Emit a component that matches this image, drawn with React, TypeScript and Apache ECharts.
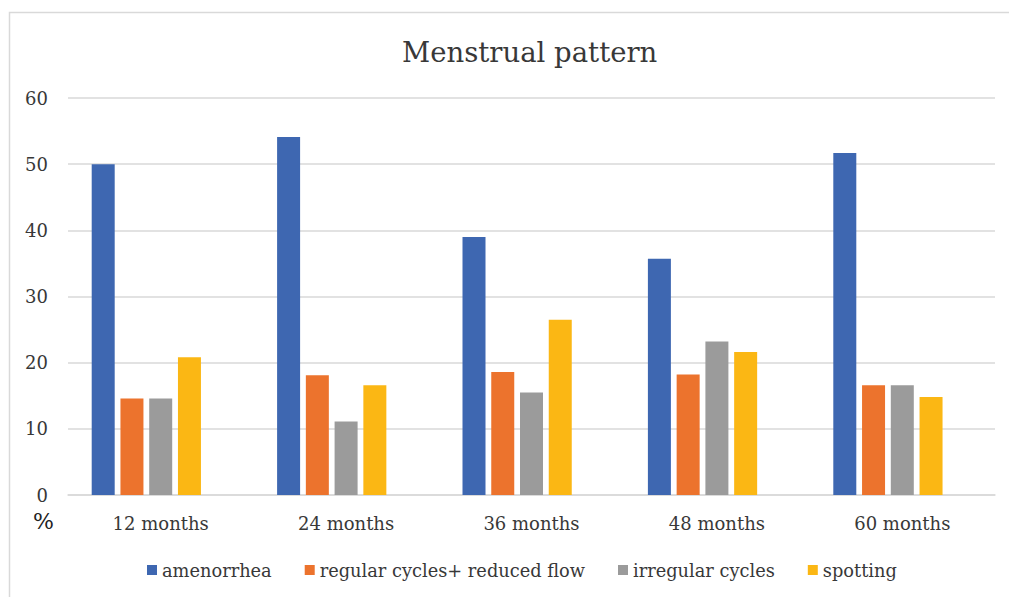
import React, { useEffect, useRef } from "react";
import * as echarts from "echarts";

const categories = ["12 months", "24 months", "36 months", "48 months", "60 months"];
const amenorrhea = [50, 54.1, 39, 35.7, 51.7];
const regularReduced = [14.6, 18.1, 18.6, 18.2, 16.6];
const irregular = [14.6, 11.1, 15.5, 23.2, 16.6];
const spotting = [20.8, 16.6, 26.5, 21.6, 14.8];
const seriesNames = ["amenorrhea", "regular cycles+ reduced flow", "irregular cycles", "spotting"];
const colors = ["#3E67B1", "#EC732D", "#9B9B9B", "#FBB714"];

const FONT = "DejaVu Serif";
const TEXT = "#383838";

export default function App() {
  const ref = useRef<HTMLDivElement>(null);
  useEffect(() => {
    if (!ref.current) return;
    const chart = echarts.init(ref.current, undefined, { renderer: "svg" });
    const values = [amenorrhea, regularReduced, irregular, spotting];
    const series: any[] = values.map((d, i) => ({
      name: seriesNames[i],
      type: "bar",
      data: d,
      barWidth: 23,
      barGap: "25%",
      itemStyle: { color: colors[i] },
    }));
    // empty placeholder slot (present in the original chart layout)
    series.push({ name: "", type: "bar", data: [], barWidth: 23, barGap: "25%", silent: true });
    chart.setOption({
      animation: false,
      backgroundColor: "#ffffff",
      title: {
        text: "Menstrual pattern",
        left: 397,
        top: 33,
        textStyle: { fontFamily: FONT, fontSize: 27.5, fontWeight: "normal", color: TEXT },
      },
      legend: {
        data: seriesNames,
        left: 142,
        top: 556,
        icon: "rect",
        itemWidth: 10,
        itemHeight: 10,
        itemGap: 33,
        textStyle: { fontFamily: FONT, fontSize: 17.8, color: TEXT },
      },
      grid: { left: 68, right: 14, top: 98, bottom: 102, containLabel: false },
      xAxis: {
        type: "category",
        data: categories,
        axisLine: { show: true, lineStyle: { color: "#d9d9d9", width: 1.5 } },
        axisTick: { show: false },
        axisLabel: { fontFamily: FONT, fontSize: 18, color: TEXT, margin: 19 },
      },
      yAxis: {
        type: "value",
        min: 0,
        max: 60,
        interval: 10,
        axisLine: { show: false },
        axisTick: { show: false },
        splitLine: { lineStyle: { color: "#d9d9d9", width: 1.5 } },
        axisLabel: { fontFamily: FONT, fontSize: 18, color: TEXT, margin: 20 },
      },
      graphic: [
        {
          type: "rect",
          shape: { x: 9.5, y: 12.5, width: 1100, height: 700 },
          style: { fill: "none", stroke: "#d9d9d9", lineWidth: 1.5 },
          silent: true,
          z: -1,
        },
        {
          type: "text",
          left: 33,
          top: 510,
          style: { text: "%", fontFamily: FONT, fontSize: 22, fill: "#222222" },
        },
      ],
      series,
    });
    return () => chart.dispose();
  }, []);
  return (
    <div
      ref={ref}
      style={{ position: "fixed", left: 0, top: 0, width: 1009, height: 597 }}
    />
  );
}
